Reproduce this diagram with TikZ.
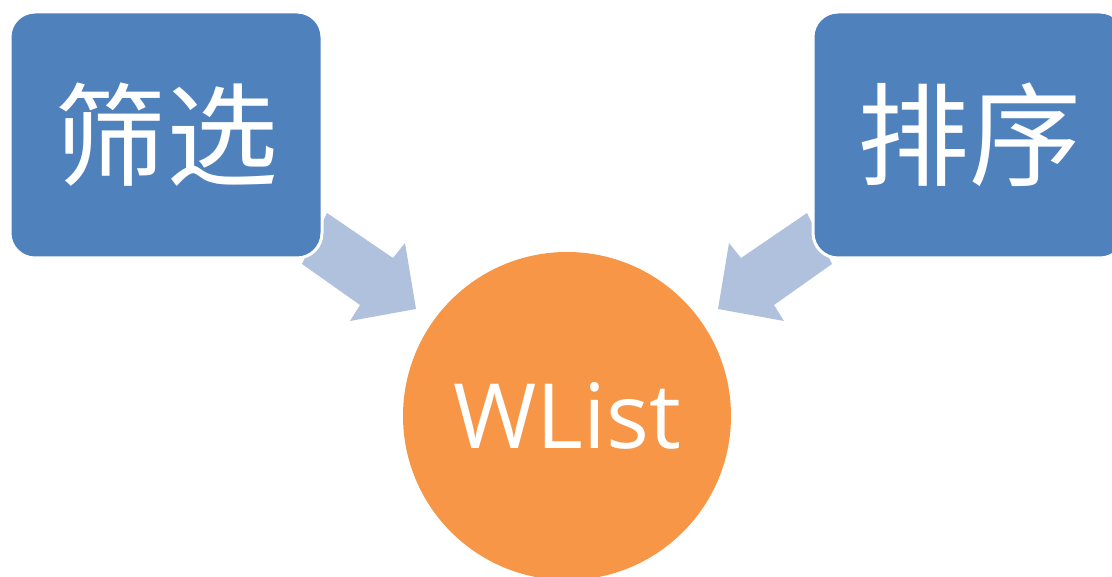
\documentclass[tikz,border=0pt]{standalone}
\usepackage{fontspec}
\setmainfont{Open Sans}
\newfontfamily\cjk{Noto Sans CJK SC}
\definecolor{boxblue}{HTML}{4F81BD}
\definecolor{arrowblue}{HTML}{B0C1DD}
\definecolor{circorange}{HTML}{F79646}
\tikzset{
  topbox/.style={draw=white, line width=3pt, fill=boxblue, rounded corners=25pt,
    minimum width=312pt, minimum height=246pt, inner sep=0pt, text=white,
    font=\cjk\fontsize{112pt}{112pt}\selectfont},
  hub/.style={circle, fill=circorange, minimum size=328pt, inner sep=0pt, text=white,
    font=\fontsize{90pt}{90pt}\selectfont},
  blockarrow/.style={fill=arrowblue, draw=none}
}
\begin{document}
\begin{tikzpicture}[x=1pt,y=-1pt]
\useasboundingbox (0,0) rectangle (1112,577);
% arrows (drawn first, boxes cover their tails)
\coordinate (la1) at (327,213);
\coordinate (la2) at (393,258);
\coordinate (la3) at (405,243);
\coordinate (la4) at (416,309);
\coordinate (la5) at (350,321);
\coordinate (la6) at (360,305);
\coordinate (la7) at (302,264);
\fill[blockarrow] (la1) -- (la2) -- (la3) -- (la4) -- (la5) -- (la6) -- (la7) -- cycle;
\coordinate (ra1) at (807,213);
\coordinate (ra2) at (741,258);
\coordinate (ra3) at (729,243);
\coordinate (ra4) at (718,309);
\coordinate (ra5) at (784,321);
\coordinate (ra6) at (774,305);
\coordinate (ra7) at (832,264);
\fill[blockarrow] (ra1) -- (ra2) -- (ra3) -- (ra4) -- (ra5) -- (ra6) -- (ra7) -- cycle;
% boxes
\node[topbox] (filter) at (166,135) {筛选};
\node[topbox] (sort) at (969,135) {排序};
% hub
\node[hub] (wlist) at (567,416) {WList};
\end{tikzpicture}
\end{document}
